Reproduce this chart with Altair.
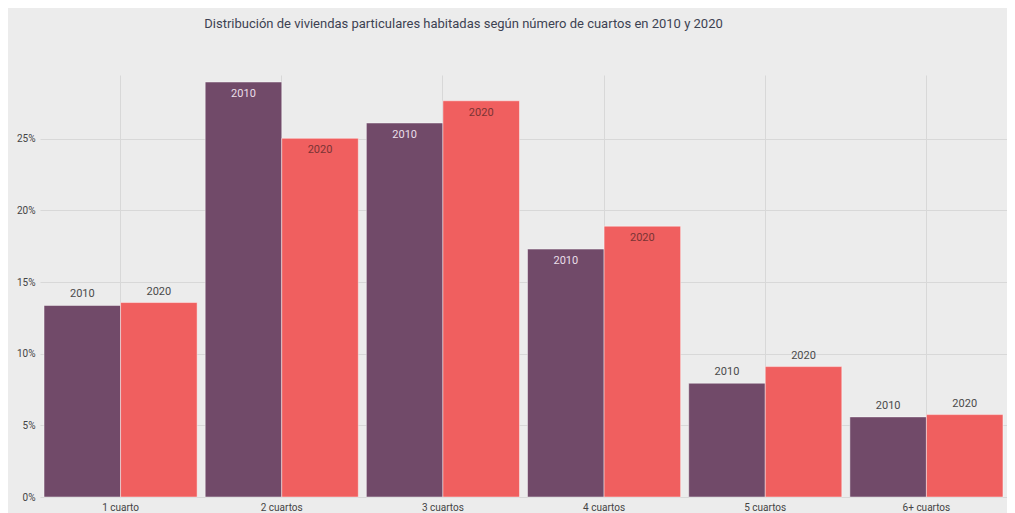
import altair as alt
import pandas as pd

categories = ["1 cuarto", "2 cuartos", "3 cuartos", "4 cuartos", "5 cuartos", "6+ cuartos"]
years = ["2010", "2020"]
share_2010 = [13.37, 28.96, 26.10, 17.30, 7.94, 5.59]
share_2020 = [13.57, 25.03, 27.65, 18.90, 9.10, 5.75]
y_ticks = [0, 0.05, 0.10, 0.15, 0.20, 0.25]

rows = []
for c, a, b in zip(categories, share_2010, share_2020):
    rows.append({"cuartos": c, "year": "2010", "value": a / 100})
    rows.append({"cuartos": c, "year": "2020", "value": b / 100})
df = pd.DataFrame(rows)

FONT = "Roboto"

x_enc = alt.X("cuartos:N", sort=categories, title=None,
              scale=alt.Scale(paddingInner=0.05, paddingOuter=0.025),
              axis=alt.Axis(labelAngle=0, ticks=False, domain=False, grid=True,
                            gridColor="#d8d8d8", labelPadding=5, labelFontSize=10,
                            labelColor="#444", labelFont=FONT))
y_enc = alt.Y("value:Q", title=None,
              scale=alt.Scale(domain=[0, 0.2945], nice=False, zero=True),
              axis=alt.Axis(values=y_ticks, format=".0%", ticks=False, domain=False,
                            gridColor="#d8d8d8", labelPadding=5, labelFontSize=10,
                            labelColor="#444", labelFont=FONT, minExtent=24, maxExtent=24))
xoff = alt.XOffset("year:N", sort=years, scale=alt.Scale(paddingInner=0, paddingOuter=0))

base = alt.Chart(df).encode(x=x_enc, xOffset=xoff, y=y_enc)

bars = base.mark_bar(stroke="white", strokeOpacity=0.45, strokeWidth=1).encode(
    color=alt.Color("year:N", sort=years,
                    scale=alt.Scale(domain=years, range=["#714a69", "#f05f5f"]),
                    legend=None)
)

inside = base.transform_filter("datum.value > 0.15").mark_text(
    baseline="middle", dy=12, fontSize=11, font=FONT
).encode(
    text="year:N",
    color=alt.condition("datum.year == '2010'", alt.value("#eadfe8"), alt.value("#7a3434")),
)

outside = base.transform_filter("datum.value <= 0.15").mark_text(
    baseline="middle", dy=-11, fontSize=11, font=FONT, color="#4a4a4a"
).encode(text="year:N")

chart = alt.layer(bars, inside, outside).properties(
    width=967, height=422,
    title=alt.TitleParams(
        "Distribución de viviendas particulares habitadas según número de cuartos en 2010 y 2020",
        fontSize=13, font=FONT, color="#3d4252", fontWeight="normal",
        anchor="middle", dx=-60, offset=44, baseline="top",
    ),
    padding={"left": 8, "top": 10, "right": 0, "bottom": 2},
    background="#ececec",
).configure_view(stroke=None, fill="#ececec")

chart.save("out.html", embed_options={"renderer": "svg", "actions": False})
